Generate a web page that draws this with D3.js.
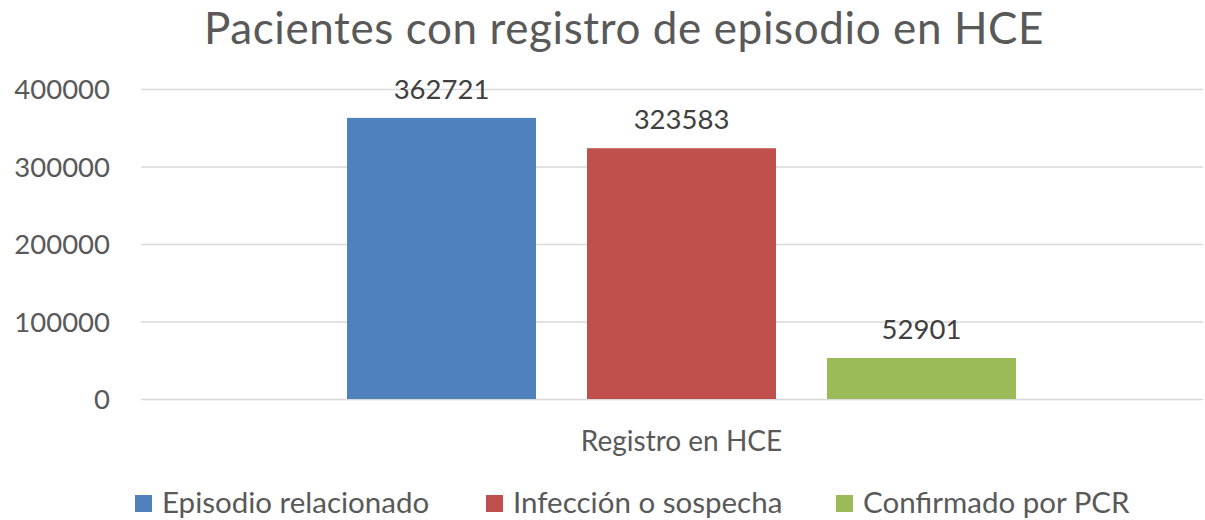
<!DOCTYPE html>
<html><head><meta charset="utf-8">
<script src="https://cdn.jsdelivr.net/npm/d3@7"></script>
<style>body{margin:0;background:#fff}svg{display:block}text{font-family:Lato,"Open Sans",sans-serif}</style>
</head><body><svg id="c" width="1205" height="520"></svg>
<script>
const title = "Pacientes con registro de episodio en HCE";
const categories = ["Registro en HCE"];
const seriesNames = ["Episodio relacionado", "Infección o sospecha", "Confirmado por PCR"];
const seriesValues = [362721, 323583, 52901];
const seriesColors = ["#4F81BD", "#C0504D", "#9BBB59"];
const yTicks = [0, 100000, 200000, 300000, 400000];

const svg = d3.select("#c");
const plotL = 141, plotR = 1203, y0px = 399, yTop = 89;
const y = d3.scaleLinear().domain([0, 400000]).range([y0px, yTop]);
const x0 = d3.scaleBand().domain(categories).range([plotL, 1222]);
const x1 = d3.scaleBand().domain(seriesNames).range([347 - x0(categories[0]), 1016 - x0(categories[0])]).paddingInner(0.2125).paddingOuter(0);

// grid
const yAxis = d3.axisLeft(y).tickValues(yTicks).tickSize(-(plotR - plotL)).tickPadding(31).tickFormat(d3.format("d"));
const g = svg.append("g").attr("transform", `translate(${plotL},0)`).call(yAxis);
g.select(".domain").remove();
g.selectAll(".tick line").attr("stroke", "#D9D9D9").attr("stroke-width", 1.5);
g.selectAll(".tick text").attr("fill", "#595959").style("font-size", "27.5px").attr("dy", "0.35em");

// bars
const grp = svg.append("g").selectAll("g").data(categories).join("g").attr("transform", d => `translate(${x0(d)},0)`);
grp.selectAll("rect").data(seriesNames.map((n, i) => ({n, v: seriesValues[i], c: seriesColors[i]})))
  .join("rect").attr("x", d => x1(d.n)).attr("width", x1.bandwidth())
  .attr("y", d => y(d.v)).attr("height", d => y(0) - y(d.v)).attr("fill", d => d.c);
grp.selectAll("text.lbl").data(seriesNames.map((n, i) => ({n, v: seriesValues[i]})))
  .join("text").attr("class", "lbl").attr("x", d => x1(d.n) + x1.bandwidth() / 2)
  .attr("y", d => y(d.v) - 19).attr("text-anchor", "middle").attr("fill", "#404040")
  .style("font-size", "27.5px").text(d => d.v);

// category label
svg.append("g").selectAll("text").data(categories).join("text")
  .attr("x", d => (347 + 1016) / 2).attr("y", 451).attr("text-anchor", "middle")
  .attr("fill", "#595959").style("font-size", "28px").text(d => d);

// title
svg.append("text").attr("x", 624).attr("y", 44).attr("text-anchor", "middle")
  .attr("fill", "#595959").style("font-size", "44px").style("letter-spacing", "0.6px").text(title);

// legend
const legX = [135, 486, 836];
const leg = svg.append("g").selectAll("g").data(seriesNames).join("g")
  .attr("transform", (d, i) => `translate(${legX[i]},495)`);
leg.append("rect").attr("width", 17).attr("height", 17).attr("fill", (d, i) => seriesColors[i]);
leg.append("text").attr("x", 27).attr("y", 18).attr("fill", "#595959").style("font-size", "29.5px").text(d => d);
</script></body></html>
